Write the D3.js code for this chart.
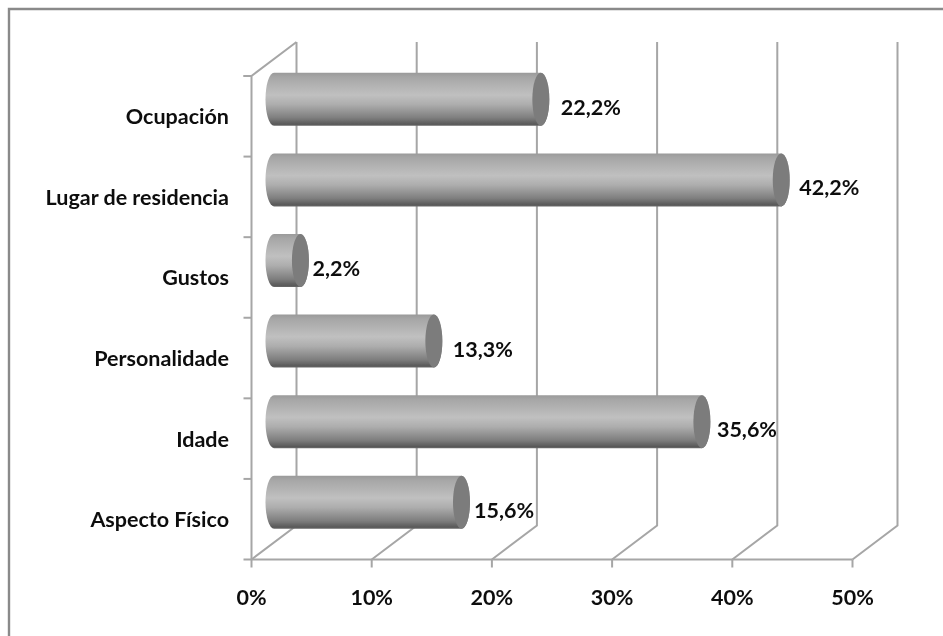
<!DOCTYPE html>
<html><head><meta charset="utf-8">
<script src="https://cdn.jsdelivr.net/npm/d3@7/dist/d3.min.js"></script>
<style>html,body{margin:0;padding:0;background:#fff}svg{display:block}text{font-family:Lato,"Open Sans",sans-serif;font-weight:700;fill:#111}</style>
</head><body><svg id="c" width="943" height="636"></svg>
<script>
const categories = ["Aspecto Físico","Idade","Personalidade","Gustos","Lugar de residencia","Ocupación"];
const values = [15.6,35.6,13.3,2.2,42.2,22.2];
const valueLabels = ["15,6%","35,6%","13,3%","2,2%","42,2%","22,2%"];
const xTicks = [0,10,20,30,40,50];
const labelGap = [12.5,15,19,12,18,20];

const svg = d3.select("#c");
const grid="#a6a6a6";
const x=d3.scaleLinear().domain([0,50]).range([251.5,852.5]);
const y=d3.scaleBand().domain(categories).range([559.5,76]);
const dx=45,dy=-34;
const bh=53,rx=8.5;

const defs=svg.append("defs");
const g=defs.append("linearGradient").attr("id","cyl").attr("x1",0).attr("x2",0).attr("y1",0).attr("y2",1);
[[0,"#9a9a9a"],[0.08,"#a6a6a6"],[0.42,"#c0c0c0"],[0.6,"#adadad"],[0.85,"#7e7e7e"],[0.97,"#595959"],[1,"#6a6a6a"]]
 .forEach(s=>g.append("stop").attr("offset",s[0]).attr("stop-color",s[1]));
defs.append("filter").attr("id","soft").append("feGaussianBlur").attr("stdDeviation",0.45);

svg.append("path").attr("fill","none").attr("stroke","#8a8a8a").attr("stroke-width",2.4)
  .attr("d",d3.line()([[9,636],[9,9],[943,9]]));

const root=svg.append("g").attr("filter","url(#soft)");
const lines=root.append("g").attr("fill","none").attr("stroke",grid).attr("stroke-width",2);
const y0=y.range()[0],y1=y.range()[1];
xTicks.forEach(t=>{
  const px=x(t);
  lines.append("path").attr("d",d3.line()([[px,y0],[px+dx,y0+dy],[px+dx,y1+dy]]));
  lines.append("line").attr("x1",px).attr("x2",px).attr("y1",y0).attr("y2",y0+8);
});
lines.append("line").attr("x1",x(0)-8).attr("x2",x(50)).attr("y1",y0).attr("y2",y0);
lines.append("path").attr("d",d3.line()([[x(0),y0],[x(0),y1],[x(0)+dx,y1+dy]]));
const edges=categories.map(c=>y(c)).concat([y1]);
edges.forEach(e=>lines.append("line").attr("x1",x(0)-8).attr("x2",x(0)).attr("y1",e).attr("y2",e));

const bars=root.append("g").selectAll("g").data(categories).join("g");
const cyl=(i)=>{
  const cy=y(categories[i])+y.bandwidth()/2+dy/2;
  return {cy,x0:x(0)+dx/2,x1:x(values[i])+dx/2,t:cy-bh/2,b:cy+bh/2};
};
bars.append("path").attr("fill","url(#cyl)").attr("d",(d,i)=>{
  const c=cyl(i);
  return `M${c.x0},${c.t}L${c.x1},${c.t}A${rx},${bh/2} 0 0 1 ${c.x1},${c.b}L${c.x0},${c.b}A${rx},${bh/2} 0 0 1 ${c.x0},${c.t}Z`;
});
bars.append("ellipse").attr("fill","#7b7b7b")
  .attr("cx",(d,i)=>cyl(i).x1).attr("cy",(d,i)=>cyl(i).cy).attr("rx",rx).attr("ry",bh/2);

const txt=root.append("g").attr("font-size",21.5);
txt.selectAll(".cat").data(categories).join("text").attr("class","cat")
  .attr("x",229).attr("y",d=>y(d)+y.bandwidth()/2+8).attr("text-anchor","end").text(d=>d);
txt.selectAll(".val").data(valueLabels).join("text").attr("class","val")
  .attr("x",(d,i)=>x(values[i])+dx/2+labelGap[i])
  .attr("y",(d,i)=>y(categories[i])+y.bandwidth()/2-1.5).text(d=>d);
txt.selectAll(".tick").data(xTicks).join("text").attr("class","tick")
  .attr("x",d=>x(d)).attr("y",605).attr("text-anchor","middle").text(d=>d+"%");
</script></body></html>
